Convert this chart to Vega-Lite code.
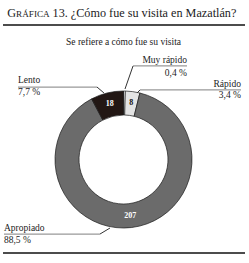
{
  "$schema": "https://vega.github.io/schema/vega-lite/v6.json",
  "width": 137,
  "height": 137,
  "autosize": {"type": "none"},
  "padding": {"left": 55, "top": 91, "right": 57, "bottom": 35},
  "background": "white",
  "config": {"view": {"stroke": null}, "font": "Liberation Serif, Times New Roman, serif", "text": {"font": "Liberation Serif, Times New Roman, serif"}},
  "resolve": {"scale": {"color": "independent"}},
  "datasets": {
    "slices": [
      {"category": "Muy rápido", "value": 1, "idx": 1},
      {"category": "Rápido", "value": 8, "idx": 2},
      {"category": "Apropiado", "value": 207, "idx": 3},
      {"category": "Lento", "value": 18, "idx": 4}
    ],
    "labels": [
      {"text": "Muy rápido", "u": 0.927, "v": 1.409, "side": "right"},
      {"text": "0,4 %", "u": 0.927, "v": 1.219, "side": "right"},
      {"text": "Rápido", "u": 1.715, "v": 1.058, "side": "right"},
      {"text": "3,4 %", "u": 1.715, "v": 0.898, "side": "right"},
      {"text": "Lento", "u": -1.54, "v": 1.117, "side": "left"},
      {"text": "7,7 %", "u": -1.54, "v": 0.942, "side": "left"},
      {"text": "Apropiado", "u": -1.745, "v": -1.044, "side": "left"},
      {"text": "88,5 %", "u": -1.745, "v": -1.219, "side": "left"},
      {"text": "Se refiere a cómo fue su visita", "u": 0, "v": 1.672, "side": "center"}
    ],
    "title": [
      {"text": "G", "u": -1.696, "v": 2.08, "part": "big"},
      {"text": "RÁFICA", "u": -1.569, "v": 2.08, "part": "small"},
      {"text": "13. ¿Cómo fue su visita en Mazatlán?", "u": -1.036, "v": 2.08, "part": "big"}
    ],
    "lines": [
      {"u1": -1.759, "v1": 1.964, "u2": 1.774, "v2": 1.964, "kind": "frame"},
      {"u1": -1.759, "v1": -1.365, "u2": 1.774, "v2": -1.365, "kind": "frame"},
      {"u1": 0.139, "v1": 1.365, "u2": 0.927, "v2": 1.365, "kind": "underline"},
      {"u1": 0.139, "v1": 1.365, "u2": 0.022, "v2": 1.029, "kind": "leader"},
      {"u1": 0.241, "v1": 1.015, "u2": 1.715, "v2": 1.015, "kind": "underline"},
      {"u1": 0.241, "v1": 1.015, "u2": 0.197, "v2": 0.971, "kind": "leader"},
      {"u1": -1.54, "v1": 1.058, "u2": -0.387, "v2": 1.058, "kind": "underline"},
      {"u1": -0.387, "v1": 1.058, "u2": -0.285, "v2": 0.971, "kind": "leader"},
      {"u1": -1.745, "v1": -1.088, "u2": -0.343, "v2": -1.088, "kind": "underline"},
      {"u1": -0.343, "v1": -1.088, "u2": -0.197, "v2": -1.0, "kind": "leader"}
    ]
  },
  "layer": [
    {
      "data": {"name": "slices"},
      "mark": {"type": "arc", "innerRadius": 44.5, "outerRadius": 68.5, "stroke": "#1a1a1a", "strokeWidth": 0.7},
      "encoding": {
        "theta": {"field": "value", "type": "quantitative", "stack": true},
        "order": {"field": "idx", "type": "quantitative"},
        "color": {
          "field": "category", "type": "nominal", "legend": null,
          "scale": {"domain": ["Muy rápido", "Rápido", "Apropiado", "Lento"], "range": ["#ffffff", "#e4e4e4", "#6b6b6b", "#221714"]}
        }
      }
    },
    {
      "data": {"name": "slices"},
      "mark": {"type": "text", "radius": 57, "fontSize": 8, "fontWeight": "bold"},
      "encoding": {
        "theta": {"field": "value", "type": "quantitative", "stack": true},
        "order": {"field": "idx", "type": "quantitative"},
        "text": {"condition": {"test": "datum.value > 1", "field": "value", "type": "quantitative"}, "value": ""},
        "color": {
          "field": "category", "type": "nominal", "legend": null,
          "scale": {"domain": ["Muy rápido", "Rápido", "Apropiado", "Lento"], "range": ["#111111", "#111111", "#ffffff", "#ffffff"]}
        }
      }
    },
    {
      "data": {"name": "lines"},
      "mark": {"type": "rule"},
      "encoding": {
        "x": {"field": "u1", "type": "quantitative", "scale": {"domain": [-1, 1], "nice": false, "zero": false}, "axis": null},
        "y": {"field": "v1", "type": "quantitative", "scale": {"domain": [-1, 1], "nice": false, "zero": false}, "axis": null},
        "x2": {"field": "u2"},
        "y2": {"field": "v2"},
        "color": {"field": "kind", "type": "nominal", "legend": null, "scale": {"domain": ["frame", "underline", "leader"], "range": ["#111111", "#999999", "#333333"]}},
        "strokeWidth": {"field": "kind", "type": "nominal", "legend": null, "scale": {"domain": ["frame", "underline", "leader"], "range": [1.5, 1, 0.8]}}
      }
    },
    {
      "data": {"name": "labels"},
      "transform": [{"filter": "datum.side == 'left'"}],
      "mark": {"type": "text", "align": "left", "baseline": "alphabetic", "fontSize": 9.5, "color": "#222222"},
      "encoding": {
        "x": {"field": "u", "type": "quantitative"},
        "y": {"field": "v", "type": "quantitative"},
        "text": {"field": "text"}
      }
    },
    {
      "data": {"name": "labels"},
      "transform": [{"filter": "datum.side == 'right'"}],
      "mark": {"type": "text", "align": "right", "baseline": "alphabetic", "fontSize": 9.5, "color": "#222222"},
      "encoding": {
        "x": {"field": "u", "type": "quantitative"},
        "y": {"field": "v", "type": "quantitative"},
        "text": {"field": "text"}
      }
    },
    {
      "data": {"name": "labels"},
      "transform": [{"filter": "datum.side == 'center'"}],
      "mark": {"type": "text", "align": "center", "baseline": "alphabetic", "fontSize": 9.5, "color": "#222222"},
      "encoding": {
        "x": {"field": "u", "type": "quantitative"},
        "y": {"field": "v", "type": "quantitative"},
        "text": {"field": "text"}
      }
    },
    {
      "data": {"name": "title"},
      "transform": [{"filter": "datum.part == 'big'"}],
      "mark": {"type": "text", "align": "left", "baseline": "alphabetic", "fontSize": 12.2, "color": "#222222"},
      "encoding": {
        "x": {"field": "u", "type": "quantitative"},
        "y": {"field": "v", "type": "quantitative"},
        "text": {"field": "text"}
      }
    },
    {
      "data": {"name": "title"},
      "transform": [{"filter": "datum.part == 'small'"}],
      "mark": {"type": "text", "align": "left", "baseline": "alphabetic", "fontSize": 9.2, "color": "#222222"},
      "encoding": {
        "x": {"field": "u", "type": "quantitative"},
        "y": {"field": "v", "type": "quantitative"},
        "text": {"field": "text"}
      }
    }
  ]
}
